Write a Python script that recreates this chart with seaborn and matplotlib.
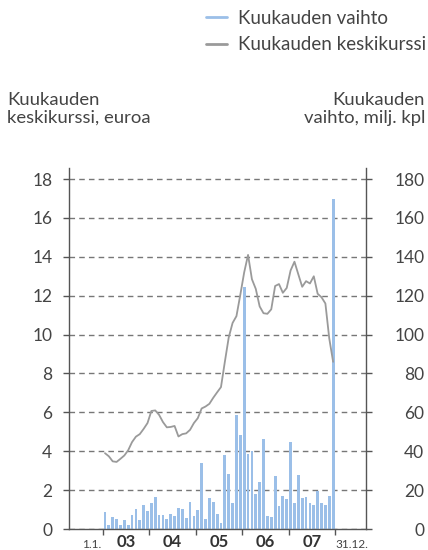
import numpy as np
import pandas as pd
import matplotlib
matplotlib.use("Agg")
import matplotlib.pyplot as plt
import seaborn as sns
from matplotlib.lines import Line2D

# ---- data (monthly, Jan 2003 .. Dec 2007) ----
volume = [9.0, 1.9, 6.0, 5.3, 2.2, 4.8, 2.2, 7.4, 10.5, 4.8, 12.1, 9.5,
          13.6, 16.7, 7.4, 7.4, 5.3, 7.9, 6.9, 11.0, 10.5, 5.9, 14.1, 6.9,
          10.0, 33.8, 5.3, 15.7, 14.1, 7.9, 3.3, 37.9, 28.1, 13.6, 58.6, 48.3,
          124.5, 38.4, 40.2, 17.8, 24.0, 46.2, 6.9, 6.4, 27.1, 11.6, 17.2, 15.2,
          44.7, 13.6, 27.6, 15.7, 16.7, 13.6, 12.1, 19.8, 13.6, 12.6, 17.2, 170.0]
price = [3.9, 3.74, 3.48, 3.45, 3.61, 3.78, 4.05, 4.47, 4.75, 4.88, 5.15, 5.45,
         6.07, 6.1, 5.87, 5.5, 5.23, 5.25, 5.3, 4.76, 4.88, 4.92, 5.1, 5.45,
         5.7, 6.2, 6.3, 6.44, 6.75, 7.03, 7.3, 8.6, 9.85, 10.6, 10.95, 12.05,
         13.2, 14.1, 12.85, 12.35, 11.45, 11.1, 11.07, 11.3, 12.5, 12.6, 12.15, 12.4,
         13.3, 13.75, 13.1, 12.46, 12.75, 12.63, 13.0, 12.1, 11.92, 11.6, 9.8, 8.6]
year_labels = ["03", "04", "05", "06", "07"]
left_ticks = [0, 2, 4, 6, 8, 10, 12, 14, 16, 18]
right_ticks = [0, 20, 40, 60, 80, 100, 120, 140, 160, 180]
legend_labels = ["Kuukauden vaihto", "Kuukauden keskikurssi"]

BLUE = "#9bbfe8"
GRAY = "#9a9a9a"
TXT = "#444444"
SPINE = "#555555"

sns.set_theme(style="white")
plt.rcParams["font.family"] = ["Lato", "DejaVu Sans"]

df = pd.DataFrame({"pos": np.arange(len(volume)) + 0.5,
                   "volume": volume, "price": price})

W, H = 428, 550
fig = plt.figure(figsize=(W / 100, H / 100), dpi=100)
ax1 = fig.add_axes([69 / W, 1 - 529 / H, (366 - 69) / W, (529 - 168) / H])
ax2 = ax1.twinx()

sns.barplot(data=df, x="pos", y="volume", native_scale=True, color=BLUE,
            saturation=1, width=0.72, linewidth=0, ax=ax2)
sns.lineplot(data=df, x="pos", y="price", color=GRAY, lw=1.3, ax=ax1)

ax1.set_zorder(ax2.get_zorder() + 1)
ax1.patch.set_visible(False)

ax1.set_ylim(0, 18.57)
ax2.set_ylim(0, 185.7)
ax1.set_xlim(-8.8, 68.0)
ax2.set_xlim(-8.8, 68.0)

# grid on the bar axis, below bars
ax2.set_axisbelow(True)
ax2.yaxis.grid(True, linestyle=(0, (4, 3)), color="#777777", lw=1.0)
ax1.grid(False)
ax2.xaxis.grid(False)

ax1.set_yticks(left_ticks)
ax2.set_yticks(right_ticks)
ax1.set_xlabel("")
ax1.set_ylabel("")
ax2.set_xlabel("")
ax2.set_ylabel("")

for s in ["top", "right"]:
    ax1.spines[s].set_visible(False)
for s in ["top", "left", "bottom"]:
    ax2.spines[s].set_visible(False)
for a, s in [(ax1, "left"), (ax1, "bottom"), (ax2, "right")]:
    a.spines[s].set_color(SPINE)
    a.spines[s].set_linewidth(1.0)

ax1.tick_params(axis="y", left=True, direction="out", length=4, width=1,
                color=SPINE, labelcolor=TXT, labelsize=12.5, pad=8)
ax2.tick_params(axis="y", right=True, direction="out", length=4, width=1,
                color=SPINE, labelcolor=TXT, labelsize=12.5, pad=38)
for lab in ax2.get_yticklabels():
    lab.set_horizontalalignment("right")

# x axis: year boundaries as ticks, year labels between
ax1.set_xticks([0, 12, 24, 36, 48, 60])
ax1.set_xticklabels([""] * 6)
ax1.set_xticks([6, 18, 30, 42, 54], minor=True)
ax1.set_xticklabels(year_labels, minor=True, fontsize=12, fontweight="bold",
                    color="#333333")
ax1.tick_params(axis="x", which="major", bottom=True, direction="out",
                length=4, width=1, color=SPINE)
ax1.tick_params(axis="x", which="minor", bottom=True, length=0, pad=3.5)
ax2.tick_params(axis="x", bottom=False, labelbottom=False)

tr = ax1.get_xaxis_transform()
ax1.text(-0.4, -0.028, "1.1.", transform=tr, ha="right", va="top",
         fontsize=8.5, color=TXT)
ax1.text(60.2, -0.028, "31.12.", transform=tr, ha="left", va="top",
         fontsize=8.5, color=TXT)

# axis titles
fig.text(7 / W, 1 - 92 / H, "Kuukauden\nkeskikurssi, euroa", ha="left",
         va="top", fontsize=13.3, color=TXT, linespacing=1.15)
fig.text(425 / W, 1 - 92 / H, "Kuukauden\nvaihto, milj. kpl", ha="right",
         va="top", fontsize=13.3, color=TXT, linespacing=1.15,
         multialignment="right")

handles = [Line2D([], [], color=BLUE, lw=2), Line2D([], [], color=GRAY, lw=2)]
fig.legend(handles, legend_labels, loc="upper left",
           bbox_to_anchor=(206 / W, 1 - 10 / H), frameon=False, fontsize=13.5,
           labelcolor=TXT, handlelength=1.1, handletextpad=0.6,
           labelspacing=0.5, borderpad=0, borderaxespad=0)

fig.savefig("out.png", dpi=100)
